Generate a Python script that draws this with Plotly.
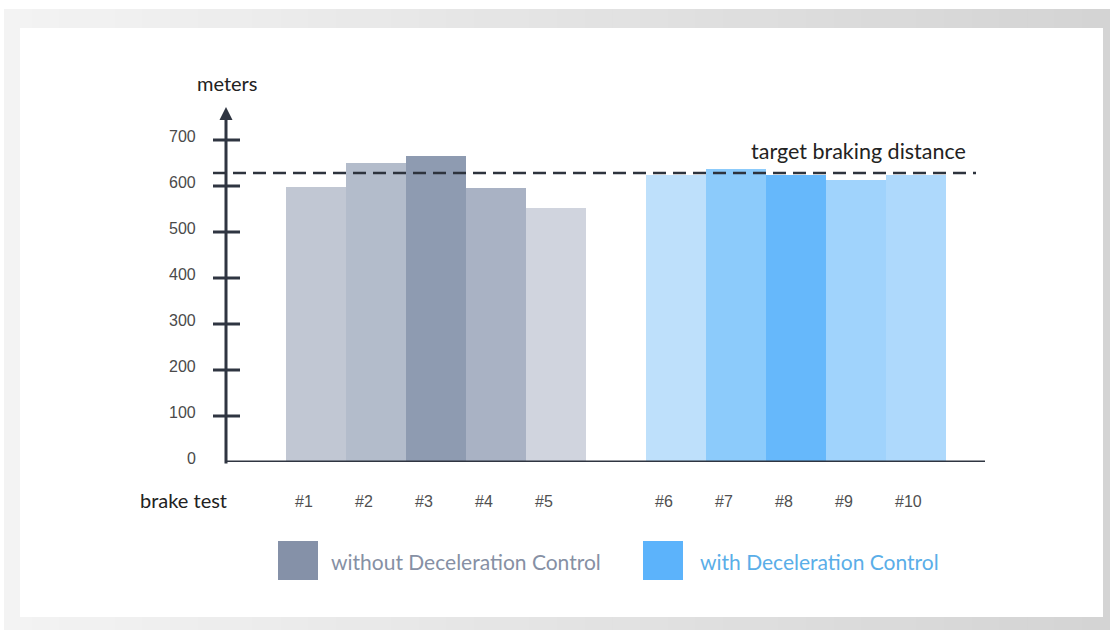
import plotly.graph_objects as go

# ---- data -------------------------------------------------------------
tests_without = ["#1", "#2", "#3", "#4", "#5"]
dist_without = [598, 650, 666, 595, 552]
colors_without = ["#c1c7d3", "#b3bccb", "#8e9bb1", "#a9b2c4", "#d0d4de"]

tests_with = ["#6", "#7", "#8", "#9", "#10"]
dist_with = [625, 637, 624, 614, 625]
colors_with = ["#bee0fb", "#8ccbfb", "#66b8fb", "#a0d3fc", "#aed9fc"]

target_distance = 628
y_ticks = [0, 100, 200, 300, 400, 500, 600, 700]
legend_labels = ["without Deceleration Control", "with Deceleration Control"]

# slot positions: five tests, one empty slot, five tests
slots_without = [0, 1, 2, 3, 4]
slots_with = [6, 7, 8, 9, 10]

# ---- canvas geometry --------------------------------------------------
W, H = 1110, 630
ML, MR, MT, MB = 226, 125, 100, 168
PW, PH = W - ML - MR, H - MT - MB
PX_PER_SLOT = 60
PX_PER_M = 0.46
X_RANGE = [-1.5, -1.5 + PW / PX_PER_SLOT]
Y_RANGE = [0, PH / PX_PER_M]


def px_x(px):
    return (px - ML) / PW


def px_y(py):
    return (H - MB - py) / PH


AXIS_COLOR = "#2f3541"
TEXT_FONT = "Lato, 'Open Sans', sans-serif"
NUM_FONT = "'Liberation Sans', Arial, sans-serif"

fig = go.Figure()

fig.add_trace(go.Bar(
    x=slots_without, y=dist_without, width=1,
    marker=dict(color=colors_without, line=dict(width=0)),
    name=legend_labels[0], showlegend=False,
    hovertext=tests_without,
))
fig.add_trace(go.Bar(
    x=slots_with, y=dist_with, width=1,
    marker=dict(color=colors_with, line=dict(width=0)),
    name=legend_labels[1], showlegend=False,
    hovertext=tests_with,
))

shapes = []

# grey frame with a soft left-to-right shading
n_strips = 40
x0f, x1f = 4, W
for i in range(n_strips):
    t = i / (n_strips - 1)
    g = int(round(0xf3 + (0xd4 - 0xf3) * t))
    col = f"rgb({g},{g},{g})"
    a = x0f + (x1f - x0f) * i / n_strips
    b = x0f + (x1f - x0f) * (i + 1) / n_strips + 1
    shapes.append(dict(type="rect", xref="paper", yref="paper",
                       x0=px_x(a), x1=px_x(b), y0=px_y(H), y1=px_y(9),
                       fillcolor=col, line=dict(width=0), layer="below"))
# white card
shapes.append(dict(type="rect", xref="paper", yref="paper",
                   x0=px_x(20), x1=px_x(1103), y0=px_y(617), y1=px_y(28),
                   fillcolor="white", line=dict(width=0), layer="below"))

# x axis baseline
shapes.append(dict(type="line", xref="paper", yref="y",
                   x0=0, x1=px_x(985), y0=0, y1=0,
                   line=dict(color=AXIS_COLOR, width=3)))
# y axis with arrow head
arrow_tip, arrow_base = 107, 120
shapes.append(dict(type="line", xref="paper", yref="paper",
                   x0=0, x1=0, y0=px_y(462 + 1.5), y1=px_y(arrow_base),
                   line=dict(color=AXIS_COLOR, width=3)))
shapes.append(dict(type="path", xref="paper", yref="paper",
                   path=(f"M {px_x(ML - 6.5)},{px_y(arrow_base)} "
                         f"L {px_x(ML + 6.5)},{px_y(arrow_base)} "
                         f"L {px_x(ML)},{px_y(arrow_tip)} Z"),
                   fillcolor=AXIS_COLOR, line=dict(width=0)))
# cross-shaped ticks
for v in y_ticks[1:]:
    shapes.append(dict(type="line", xref="paper", yref="y",
                       x0=px_x(213), x1=px_x(240), y0=v, y1=v,
                       line=dict(color=AXIS_COLOR, width=3)))
# target line
shapes.append(dict(type="line", xref="paper", yref="y",
                   x0=px_x(213), x1=px_x(976), y0=target_distance, y1=target_distance,
                   line=dict(color="#2d333d", width=2.5, dash="13px,7px")))

# legend swatches
shapes.append(dict(type="rect", xref="paper", yref="paper",
                   x0=px_x(278), x1=px_x(318), y0=px_y(580), y1=px_y(541),
                   fillcolor="#8591a8", line=dict(width=0)))
shapes.append(dict(type="rect", xref="paper", yref="paper",
                   x0=px_x(643), x1=px_x(683), y0=px_y(580), y1=px_y(541),
                   fillcolor="#5cb3fb", line=dict(width=0)))

annotations = []
# y tick labels
for v in y_ticks:
    annotations.append(dict(text=str(v), xref="paper", yref="y", x=px_x(198), y=v,
                            xanchor="right", yanchor="middle", yshift=4, showarrow=False,
                            font=dict(family=NUM_FONT, size=16, color="#4a4a4a")))
# test labels under the bars
for lab, s in zip(tests_without + tests_with, slots_without + slots_with):
    annotations.append(dict(text=lab, xref="x", yref="paper", x=s - 0.38, y=px_y(501),
                            xanchor="left", yanchor="middle", showarrow=False,
                            font=dict(family=NUM_FONT, size=16, color="#505050")))
annotations += [
    dict(text="brake test", xref="paper", yref="paper", x=px_x(183), y=px_y(500),
         xanchor="center", yanchor="middle", showarrow=False,
         font=dict(family=TEXT_FONT, size=20, color="#222222")),
    dict(text="meters", xref="paper", yref="paper", x=px_x(227), y=px_y(83),
         xanchor="center", yanchor="middle", showarrow=False,
         font=dict(family=TEXT_FONT, size=20, color="#222222")),
    dict(text="target braking distance", xref="paper", yref="paper", x=px_x(968), y=px_y(151),
         xanchor="right", yanchor="middle", showarrow=False,
         font=dict(family=TEXT_FONT, size=21.5, color="#222222")),
    dict(text=legend_labels[0], xref="paper", yref="paper", x=px_x(329), y=px_y(561),
         xanchor="left", yanchor="middle", showarrow=False,
         font=dict(family=TEXT_FONT, size=21, color="#8690a4")),
    dict(text=legend_labels[1], xref="paper", yref="paper", x=px_x(698), y=px_y(561),
         xanchor="left", yanchor="middle", showarrow=False,
         font=dict(family=TEXT_FONT, size=21, color="#5aaee8")),
]

fig.update_layout(
    width=W, height=H,
    margin=dict(l=ML, r=MR, t=MT, b=MB, pad=0),
    paper_bgcolor="white", plot_bgcolor="rgba(0,0,0,0)",
    barmode="overlay", bargap=0,
    shapes=shapes, annotations=annotations,
    showlegend=False,
    xaxis=dict(range=X_RANGE, visible=False, fixedrange=True),
    yaxis=dict(range=Y_RANGE, visible=False, fixedrange=True),
)

fig.write_html("out.html")
